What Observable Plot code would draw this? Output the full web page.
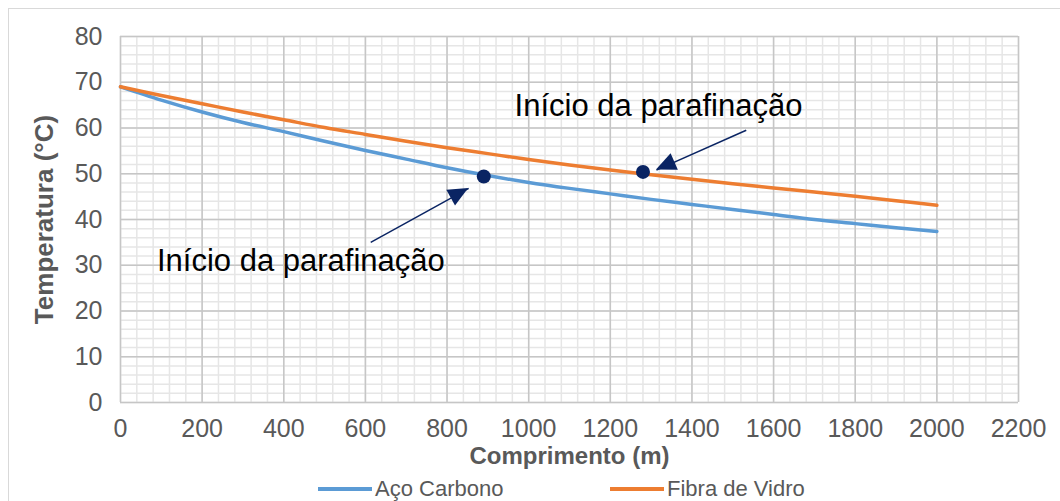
<!DOCTYPE html>
<html><head><meta charset="utf-8">
<script src="https://cdn.jsdelivr.net/npm/d3@7"></script>
<script src="https://cdn.jsdelivr.net/npm/@observablehq/plot@0.6"></script>
<style>
html,body{margin:0;padding:0;background:#fff;overflow:hidden;width:1060px;height:501px;}
#wrap{position:relative;width:1060px;height:501px;font-family:"Liberation Sans",Arial,sans-serif;}
#border{position:absolute;left:8px;top:8px;width:1200px;height:600px;border-left:1.5px solid #d9d9d9;border-top:1.5px solid #d9d9d9;}
#chart{position:absolute;left:0;top:0;}
#legend{position:absolute;left:0;top:476px;width:1060px;height:25px;font-size:22px;color:#595959;line-height:25px;}
.item{position:absolute;top:0;display:flex;align-items:center;height:25px;}
.sw{display:inline-block;width:54px;height:4px;margin-right:3px;}
</style></head>
<body><div id="wrap"><div id="border"></div><div id="chart"></div><div id="legend"></div></div>
<script>
const comprimento = [0,100,200,300,400,500,600,700,800,900,1000,1100,1200,1300,1400,1500,1600,1700,1800,1900,2000];
const acoCarbono = [69.0,66.1,63.5,61.2,59.2,57.1,55.1,53.2,51.3,49.6,48.1,46.8,45.6,44.4,43.3,42.2,41.1,40.0,39.1,38.2,37.4];
const fibraVidro = [69.0,67.1,65.3,63.5,61.8,60.1,58.6,57.1,55.7,54.4,53.1,51.9,50.8,49.8,48.8,47.8,46.9,46.0,45.1,44.1,43.1];
const seriesNames = ["Aço Carbono","Fibra de Vidro"];
const seriesColors = ["#5b9bd5","#ed7d31"];
const xTicks = [0,200,400,600,800,1000,1200,1400,1600,1800,2000,2200];
const yTicks = [0,10,20,30,40,50,60,70,80];
const xTitle = "Comprimento (m)";
const yTitle = "Temperatura (°C)";
const markX = [890,1280];
const markY = [49.4,50.4];
const annText = ["Início da parafinação","Início da parafinação"];
const annX = [442,1318];
const annY = [31.0,64.7];
const arrowFromX = [613,1533];
const arrowFromY = [35.0,59.5];
const arrowToX = [853,1313];
const arrowToY = [46.8,50.8];

const rows = [];
comprimento.forEach((c,i)=>{
  rows.push({x:c,y:acoCarbono[i],s:seriesNames[0]});
  rows.push({x:c,y:fibraVidro[i],s:seriesNames[1]});
});
const marks = markX.map((x,i)=>({x,y:markY[i]}));
const anns = annText.map((t,i)=>({t,x:annX[i],y:annY[i]}));
const arrows = arrowFromX.map((x,i)=>({x1:x,y1:arrowFromY[i],x2:arrowToX[i],y2:arrowToY[i]}));
const minorX = d3.range(0,2201,40);
const minorY = d3.range(0,81,2);

const navy = "#0a2463";
const plot = Plot.plot({
  width:1060, height:476,
  marginLeft:120, marginRight:42, marginTop:36, marginBottom:74,
  style:{fontFamily:"'Liberation Sans',Arial,sans-serif", fontSize:"24px", color:"#595959", background:"transparent", overflow:"visible"},
  x:{domain:[0,2200]},
  y:{domain:[0,80]},
  color:{domain:seriesNames, range:seriesColors},
  marks:[
    Plot.ruleX(minorX,{stroke:"#e6e6e6",strokeWidth:1.5}),
    Plot.ruleY(minorY,{stroke:"#e6e6e6",strokeWidth:1.5}),
    Plot.ruleX(xTicks,{stroke:"#c6c6c6",strokeWidth:1.5}),
    Plot.ruleY(yTicks,{stroke:"#c6c6c6",strokeWidth:1.5}),
    Plot.axisX({ticks:xTicks,tickSize:0,tickPadding:17,label:null,fontSize:25,fill:"#595959",tickFormat:d=>String(d)}),
    Plot.axisY({ticks:yTicks,tickSize:0,tickPadding:18,label:null,fontSize:25,fill:"#595959",tickFormat:d=>String(d)}),
    Plot.line(rows,{x:"x",y:"y",stroke:"s",z:"s",strokeWidth:3.5,curve:"catmull-rom"}),
    Plot.link(arrows,{x1:"x1",y1:"y1",x2:"x2",y2:"y2",stroke:navy,strokeWidth:1.5}),
    Plot.dot(marks,{x:"x",y:"y",r:7,fill:navy,stroke:null}),
    Plot.text(anns,{x:"x",y:"y",text:"t",fontSize:31,fill:"#000"}),
    Plot.text([xTitle],{frameAnchor:"bottom",dy:61,fontSize:24,fontWeight:"bold",fill:"#595959"}),
    Plot.text([yTitle],{frameAnchor:"left",textAnchor:"middle",dx:-76,rotate:-90,fontSize:26,fontWeight:"bold",fill:"#595959"})
  ]
});
document.getElementById("chart").appendChild(plot);

// filled arrow heads
const sx = plot.scale("x"), sy = plot.scale("y");
const svg = d3.select(plot);
arrows.forEach(a=>{
  const x1=sx.apply(a.x1), y1=sy.apply(a.y1), x2=sx.apply(a.x2), y2=sy.apply(a.y2);
  const ang = Math.atan2(y2-y1,x2-x1);
  const L=20, W=9;
  const bx = x2 - L*Math.cos(ang), by = y2 - L*Math.sin(ang);
  const px = -Math.sin(ang)*W, py = Math.cos(ang)*W;
  svg.append("path")
    .attr("d",`M${x2},${y2}L${bx+px},${by+py}L${bx-px},${by-py}Z`)
    .attr("fill",navy);
});

const legend = document.getElementById("legend");
const legendLeft = [318,610];
seriesNames.forEach((n,i)=>{
  const it = document.createElement("div");
  it.className="item"; it.style.left=legendLeft[i]+"px";
  const sw = document.createElement("span"); sw.className="sw"; sw.style.background=seriesColors[i];
  const tx = document.createElement("span"); tx.textContent=n;
  it.appendChild(sw); it.appendChild(tx);
  legend.appendChild(it);
});
</script></body></html>
